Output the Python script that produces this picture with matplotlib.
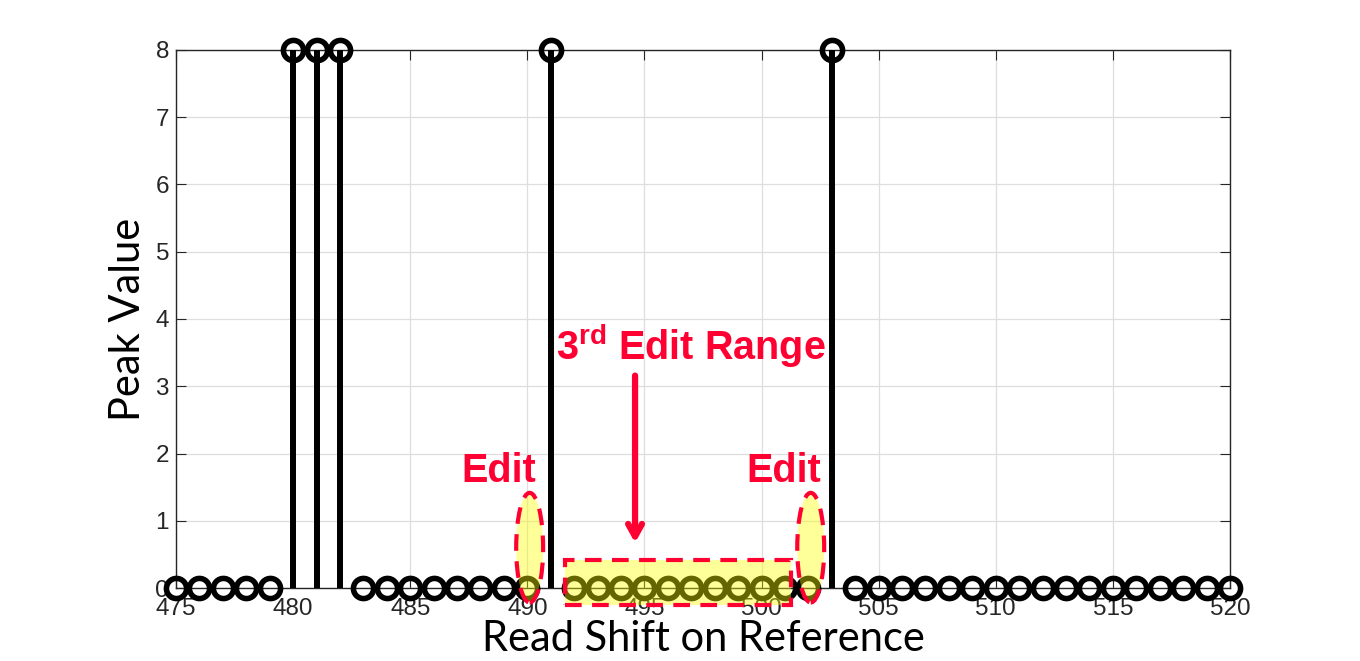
import matplotlib.pyplot as plt
import numpy as np
from matplotlib.patches import Ellipse, Rectangle

# data
shifts = np.arange(475, 521)
peak_x = [480, 481, 482, 491, 503]
peak_val = 8
values = np.array([peak_val if s in peak_x else 0 for s in shifts])
x_ticks = np.arange(475, 521, 5)
y_ticks = np.arange(0, 9, 1)

red = '#FF0033'

plt.rcParams['font.family'] = ['Liberation Sans', 'DejaVu Sans']
plt.rcParams['mathtext.fontset'] = 'custom'
plt.rcParams['mathtext.bf'] = 'Liberation Sans:bold'
plt.rcParams['mathtext.rm'] = 'Liberation Sans:bold'

fig = plt.figure(figsize=(13.6, 6.61), dpi=100)
ax = fig.add_axes([0.1294, 0.1104, 0.775, 0.814])

# stems (only non-zero ones have visible length)
for s, v in zip(shifts, values):
    if v != 0:
        ax.plot([s, s], [0, v], color='black', lw=4.3, zorder=3, solid_capstyle='butt')
ax.plot(shifts, values, ls='none', marker='o', ms=14.5, mew=4.0, mec='black',
        mfc='none', zorder=4, clip_on=False)

ax.set_xlim(475, 520)
ax.set_ylim(0, 8)
ax.set_xticks(x_ticks)
ax.set_yticks(y_ticks)
ax.grid(True, color='#DEDEDE', lw=0.9)
ax.set_axisbelow(True)
ax.tick_params(direction='in', length=7, top=True, right=True, labelsize=17.5,
               colors='#262626')
ax.tick_params(axis='x', pad=7)
ax.tick_params(axis='y', pad=5)
for sp in ax.spines.values():
    sp.set_color('#262626')
    sp.set_linewidth(1.0)

ax.set_xlabel('Read Shift on Reference', fontsize=30, family=['Lato', 'DejaVu Sans'],
              labelpad=0)
ax.set_ylabel('Peak Value', fontsize=30, family=['Lato', 'DejaVu Sans'], labelpad=6)

# highlighted edit range
rect = Rectangle((491.6, -0.25), 9.65, 0.66, facecolor=(1, 1, 0, 0.4), edgecolor=red,
                 lw=3, ls=(0, (4, 2.5)), zorder=5, clip_on=False)
ax.add_patch(rect)
for cx in [490.1, 502.1]:
    e = Ellipse((cx, 0.6), 1.15, 1.63, facecolor=(1, 1, 0, 0.4), edgecolor=red,
                lw=3, ls=(0, (4, 2.5)), zorder=5, clip_on=False)
    ax.add_patch(e)

ax.text(488.8, 1.74, 'Edit', color=red, fontsize=28.5, fontweight='bold',
        ha='center', va='center', zorder=6)
ax.text(500.95, 1.74, 'Edit', color=red, fontsize=28.5, fontweight='bold',
        ha='center', va='center', zorder=6)
ax.text(497.0, 3.6, r'3$^{\mathbf{rd}}$ Edit Range', color=red, fontsize=28.5,
        fontweight='bold', ha='center', va='center', zorder=6)
ax.annotate('', xy=(494.6, 0.63), xytext=(494.6, 3.2),
            arrowprops=dict(arrowstyle='->,head_length=0.9,head_width=0.5',
                            color=red, lw=4.5), zorder=6)

fig.savefig('out.png', dpi=100)
